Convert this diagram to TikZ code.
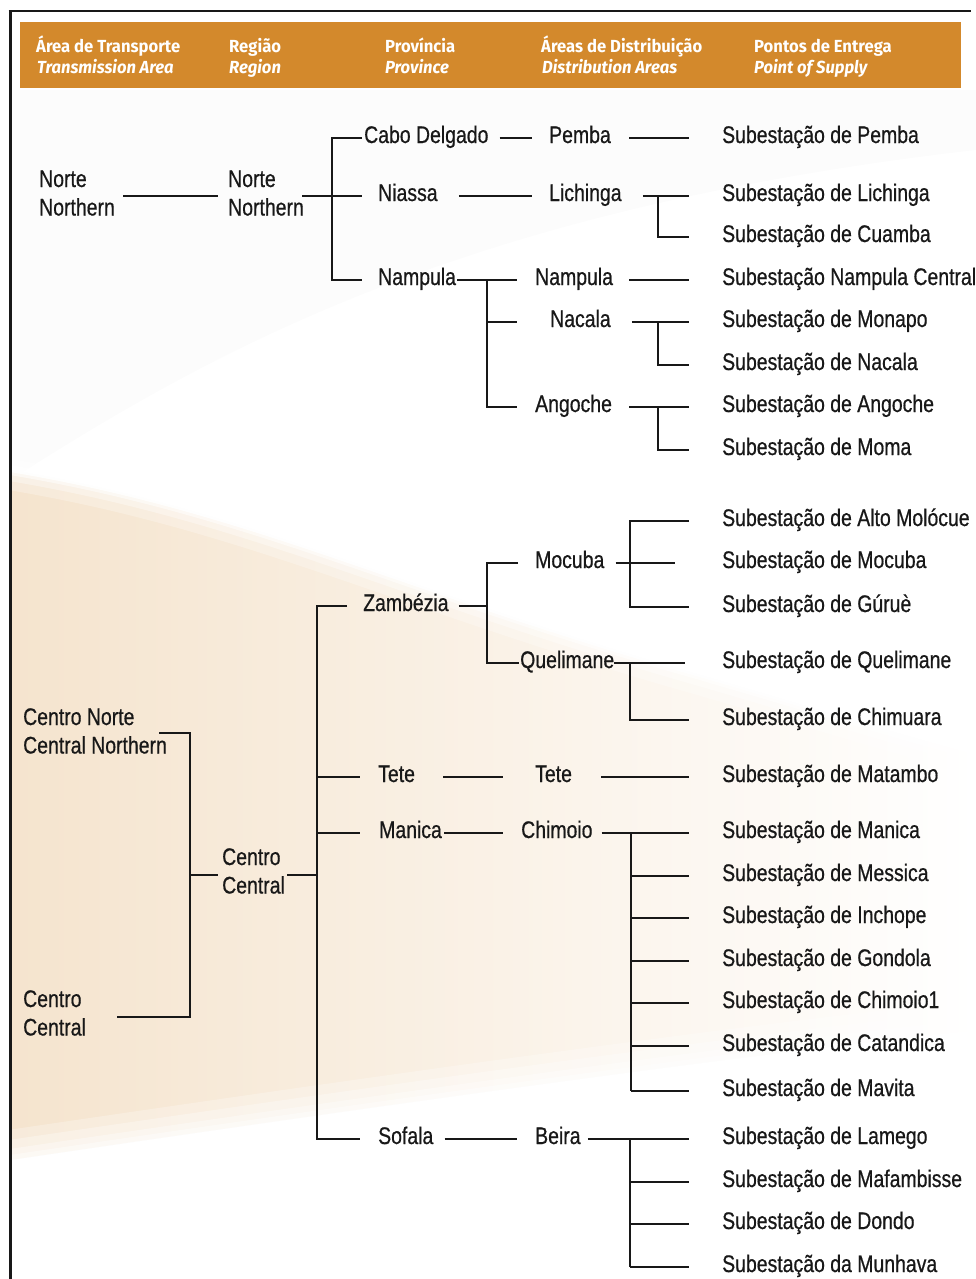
\documentclass[tikz,border=0pt]{standalone}
\usepackage{fontspec}
\setmainfont{Liberation Sans}[FakeStretch=0.81, FakeBold=0.6]
\newfontfamily\headfont{Fira Sans}[FakeStretch=0.95]
\definecolor{bar}{RGB}{211,137,44}
\definecolor{sand}{RGB}{245,228,206}
\definecolor{ink}{RGB}{24,24,24}
\newcommand{\stacklines}[2]{\vtop{\hbox{#1}\hbox{#2}}}
\tikzset{
  lbl/.style={inner sep=0pt, anchor=west, text height=20pt, text depth=10pt,
    text=ink, font=\fontsize{24}{28.5}\selectfont},
  twol/.style={inner sep=0pt, anchor=base west, text=ink,
    font=\fontsize{24}{28.5}\selectfont},
  head/.style={inner sep=0pt, anchor=base west, text=white,
    font=\headfont\bfseries\fontsize{17.5}{20}\selectfont},
  headit/.style={head, font=\headfont\bfseries\itshape\fontsize{17.5}{20}\selectfont},
  conn/.style={draw=ink, line width=2.1pt},
  connbus/.style={draw=ink, line width=2.8pt},
  haze/.style={white, line cap=round},
}
\begin{document}
\begin{tikzpicture}[x=1pt,y=-1pt]
\useasboundingbox (0,0) rectangle (976,1279);

% paper and soft background swoosh
\fill[white] (0,0) rectangle (976,1279);
\fill[black, opacity=0.012] (10,480) .. controls (200,360) and (450,210) .. (976,150)
  -- (976,90) -- (10,90) -- cycle;
\shade[left color=sand, middle color=sand!40!white, right color=white]
  (10,470) .. controls (250,510) and (400,590) .. (700,675)
  .. controls (820,710) and (900,735) .. (976,755)
  -- (976,1030) .. controls (700,1060) and (350,1110) .. (10,1160) -- cycle;
% soften the lower edge of the swoosh
\foreach \w/\o in {60/0.25, 40/0.3, 22/0.35, 10/0.4}
  \draw[haze, line width=\w pt, opacity=\o]
    (10,1160) .. controls (350,1110) and (700,1060) .. (976,1030);
% bright streak along the upper edge
\foreach \w/\o in {40/0.25, 22/0.35, 10/0.5, 4/0.9}
  \draw[haze, line width=\w pt, opacity=\o]
    (10,470) .. controls (250,510) and (400,590) .. (700,675)
    .. controls (820,710) and (900,735) .. (976,755);

% frame
\draw[ink, line width=3pt] (10,1279) -- (10,11.5);
\draw[ink, line width=2pt] (8.5,11.5) -- (971,11.5);

% header bar
\fill[bar] (20,22) rectangle (961,88);
\node[head]   (hArea)    at (36,53)  {Área de Transporte};
\node[headit] (hAreaEn)  at (37,74)  {Transmission Area};
\node[head]   (hReg)     at (229,53) {Região};
\node[headit] (hRegEn)   at (229,74) {Region};
\node[head]   (hProv)    at (385,53) {Província};
\node[headit] (hProvEn)  at (385,74) {Province};
\node[head]   (hDist)    at (541,53) {Áreas de Distribuição};
\node[headit] (hDistEn)  at (542,74) {Distribution Areas};
\node[head]   (hPonto)   at (754,53) {Pontos de Entrega};
\node[headit] (hPontoEn) at (754,74) {Point of Supply};

% ---------------- north ----------------
\node[twol] (tNorte) at (39,187)  {\stacklines{Norte}{Northern}};
\node[twol] (rNorte) at (228,187) {\stacklines{Norte}{Northern}};
\node[lbl] (pCabo)    at (364,138) {Cabo Delgado};
\node[lbl] (pNiassa)  at (378,196) {Niassa};
\node[lbl] (pNampula) at (378,280) {Nampula};
\node[lbl] (dPemba)    at (549,138) {Pemba};
\node[lbl] (dLichinga) at (549,196) {Lichinga};
\node[lbl] (dNampula)  at (535,280) {Nampula};
\node[lbl] (dNacala)   at (550,322) {Nacala};
\node[lbl] (dAngoche)  at (535,407) {Angoche};
\node[lbl] (sPemba)    at (722,138) {Subestação de Pemba};
\node[lbl] (sLichinga) at (722,196) {Subestação de Lichinga};
\node[lbl] (sCuamba)   at (722,237) {Subestação de Cuamba};
\node[lbl] (sNampula)  at (722,280) {Subestação Nampula Central};
\node[lbl] (sMonapo)   at (722,322) {Subestação de Monapo};
\node[lbl] (sNacala)   at (722,365) {Subestação de Nacala};
\node[lbl] (sAngoche)  at (722,407) {Subestação de Angoche};
\node[lbl] (sMoma)     at (722,450) {Subestação de Moma};

\coordinate (tnOut) at (123,196);
\coordinate (rnIn)  at (218,196);
\coordinate (rnOut) at (302,196);
\coordinate (nBus)  at (332,196);
\draw[conn] (tnOut) -- (rnIn);
\draw[conn] (rnOut) -- (nBus) -- ([xshift=-16pt]pNiassa.west);
\draw[conn] ([xshift=-2pt]pCabo.west) -| (nBus) |- ([xshift=-16pt]pNampula.west);

\draw[conn] ([xshift=11pt]pCabo.east) -- ([xshift=-17pt]dPemba.west);
\draw[conn] ([xshift=21pt]pNiassa.east) -- ([xshift=-17pt]dLichinga.west);
\coordinate (npBus) at (487,322);
\draw[conn] ([xshift=1pt]pNampula.east) -- ([xshift=-18pt]dNampula.west);
\draw[conn] (npBus |- dNampula.west) -- (npBus) |- ([xshift=-18pt]dAngoche.west);
\draw[conn] (npBus) -- ([xshift=-33pt]dNacala.west);

\draw[conn] ([xshift=18pt]dPemba.east) -- ([xshift=-33pt]sPemba.west);
\draw[conn] ([xshift=21pt]dLichinga.east) -- ([xshift=-33pt]sLichinga.west);
\coordinate (lichBus) at (658,196);
\draw[connbus] (lichBus) |- ([xshift=-33pt]sCuamba.west);
\draw[conn] ([xshift=16pt]dNampula.east) -- ([xshift=-33pt]sNampula.west);
\draw[conn] ([xshift=21pt]dNacala.east) -- ([xshift=-33pt]sMonapo.west);
\coordinate (nacBus) at (658,322);
\draw[connbus] (nacBus) |- ([xshift=-33pt]sNacala.west);
\draw[conn] ([xshift=17pt]dAngoche.east) -- ([xshift=-33pt]sAngoche.west);
\coordinate (angBus) at (658,407);
\draw[connbus] (angBus) |- ([xshift=-33pt]sMoma.west);

% ---------------- centre ----------------
\node[twol] (cNorte)   at (23,725)   {\stacklines{Centro Norte}{Central Northern}};
\node[twol] (cCentral) at (23,1007)  {\stacklines{Centro}{Central}};
\node[twol] (rCentral) at (222,865)  {\stacklines{Centro}{Central}};
\node[lbl] (pZambezia) at (363,606)  {Zambézia};
\node[lbl] (pTete)     at (378,777)  {Tete};
\node[lbl] (pManica)   at (379,833)  {Manica};
\node[lbl] (pSofala)   at (378,1139) {Sofala};
\node[lbl] (dMocuba)    at (535,563)  {Mocuba};
\node[lbl] (dQuelimane) at (520,663)  {Quelimane};
\node[lbl] (dTete)      at (535,777)  {Tete};
\node[lbl] (dChimoio)   at (521,833)  {Chimoio};
\node[lbl] (dBeira)     at (535,1139) {Beira};
\node[lbl] (sAlto)       at (722,521)  {Subestação de Alto Molócue};
\node[lbl] (sMocuba)     at (722,563)  {Subestação de Mocuba};
\node[lbl] (sGurue)      at (722,607)  {Subestação de Gúruè};
\node[lbl] (sQuelimane)  at (722,663)  {Subestação de Quelimane};
\node[lbl] (sChimuara)   at (722,720)  {Subestação de Chimuara};
\node[lbl] (sMatambo)    at (722,777)  {Subestação de Matambo};
\node[lbl] (sManica)     at (722,833)  {Subestação de Manica};
\node[lbl] (sMessica)    at (722,876)  {Subestação de Messica};
\node[lbl] (sInchope)    at (722,918)  {Subestação de Inchope};
\node[lbl] (sGondola)    at (722,961)  {Subestação de Gondola};
\node[lbl] (sChimoio)    at (722,1003) {Subestação de Chimoio1};
\node[lbl] (sCatandica)  at (722,1046) {Subestação de Catandica};
\node[lbl] (sMavita)     at (722,1091) {Subestação de Mavita};
\node[lbl] (sLamego)     at (722,1139) {Subestação de Lamego};
\node[lbl] (sMafambisse) at (722,1182) {Subestação de Mafambisse};
\node[lbl] (sDondo)      at (722,1224) {Subestação de Dondo};
\node[lbl] (sMunhava)    at (722,1267) {Subestação da Munhava};

\coordinate (cnIn)  at (159,733);
\coordinate (cBus)  at (190,875);
\coordinate (ccOut) at (117,1017);
\coordinate (rcIn)  at (218,875);
\draw[conn] (cnIn) -| (cBus) |- (ccOut);
\draw[connbus] (ccOut) -- ++(36,0);
\draw[conn] (cBus) -- (rcIn);

\coordinate (rcOut) at (287,875);
\coordinate (zBus)  at (317,875);
\draw[conn] (rcOut) -- (zBus);
\draw[conn] ([xshift=-16pt]pZambezia.west) -| (zBus) |- ([xshift=-18pt]pSofala.west);
\draw[conn] (zBus |- pTete.west) -- ([xshift=-18pt]pTete.west);
\draw[conn] (zBus |- pManica.west) -- ([xshift=-19pt]pManica.west);

\coordinate (zmBus) at (487,606);
\draw[conn] ([xshift=10pt]pZambezia.east) -- (zmBus);
\draw[conn] ([xshift=-17pt]dMocuba.west) -| (zmBus) |- ([xshift=-1pt]dQuelimane.west);

\coordinate (mocBus) at (630,563);
\draw[conn] ([xshift=11pt]dMocuba.east) -- ([xshift=-47pt]sMocuba.west);
\draw[connbus] ([xshift=-33pt]sAlto.west) -| (mocBus) |- ([xshift=-33pt]sGurue.west);
\coordinate (queBus) at (630,663);
\draw[conn] (dQuelimane.east) -- ([xshift=-37pt]sQuelimane.west);
\draw[connbus] (queBus) |- ([xshift=-33pt]sChimuara.west);

\draw[conn] ([xshift=28pt]pTete.east) -- ([xshift=-32pt]dTete.west);
\draw[conn] ([xshift=29pt]dTete.east) -- ([xshift=-33pt]sMatambo.west);

\draw[conn] ([xshift=2pt]pManica.east) -- ([xshift=-18pt]dChimoio.west);
\draw[conn] ([xshift=9pt]dChimoio.east) -- ([xshift=-33pt]sManica.west);
\coordinate (chiBus) at (631,833);
\draw[connbus] (chiBus) -- (chiBus |- sMavita.west);
\foreach \s in {sMessica,sInchope,sGondola,sChimoio,sCatandica,sMavita}
  \draw[conn] (chiBus |- \s.west) -- ([xshift=-33pt]\s.west);

\draw[conn] ([xshift=11pt]pSofala.east) -- ([xshift=-18pt]dBeira.west);
\draw[conn] ([xshift=7pt]dBeira.east) -- ([xshift=-33pt]sLamego.west);
\coordinate (beiBus) at (630,1139);
\draw[connbus] (beiBus) -- (beiBus |- sMunhava.west);
\foreach \s in {sMafambisse,sDondo,sMunhava}
  \draw[conn] (beiBus |- \s.west) -- ([xshift=-33pt]\s.west);
\end{tikzpicture}
\end{document}
